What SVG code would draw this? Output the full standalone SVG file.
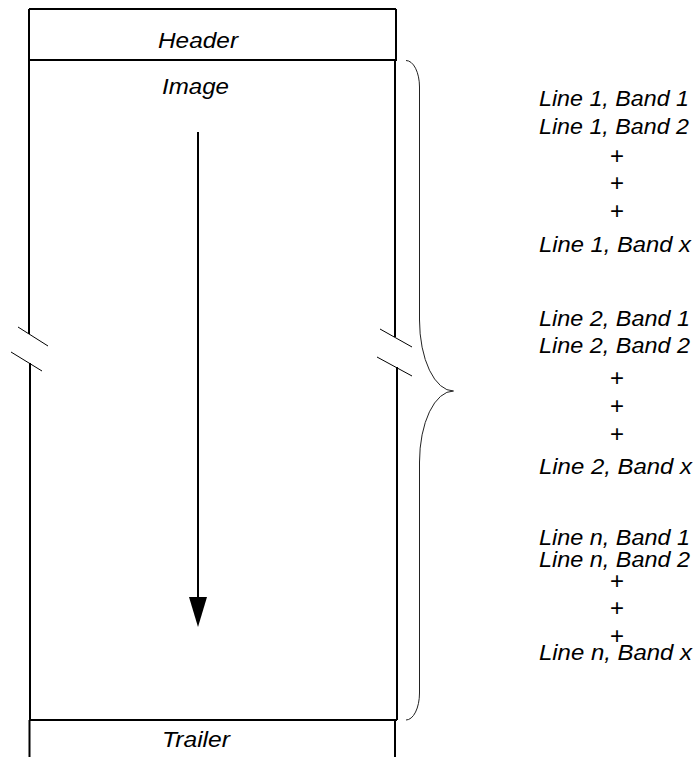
<svg xmlns="http://www.w3.org/2000/svg" width="699" height="757" viewBox="0 0 699 757">
  <style>
    .frame { fill: none; stroke: #000; stroke-width: 2; }
    .thin { fill: none; stroke: #000; stroke-width: 1; }
    .brace { fill: none; stroke: #222; stroke-width: 1; }
    text { font-family: "Liberation Sans", Arial, sans-serif; font-size: 22px; fill: #000; }
    .lbl { font-style: italic; }
    .mid { text-anchor: middle; }
    .plus { text-anchor: middle; font-size: 24px; }
  </style>
  <rect width="699" height="757" fill="#fff"/>

  <!-- Header block -->
  <g id="header">
    <path class="frame" d="M29 9 H396 M29 9 V60 M396 9 V60 M29 60 H397"/>
    <text class="lbl mid" x="198" y="48" textLength="80" lengthAdjust="spacingAndGlyphs">Header</text>
  </g>

  <!-- Image block with break marks -->
  <g id="image">
    <path class="frame" d="M29 60 V334 M30 363 V720 M395 60 V337 M397 367 V720 M29 720 H397"/>
    <path class="thin" d="M18 327 L48 346 M11 352 L42 371 M380 329 L412 347 M377 357 L412 376"/>
    <text class="lbl mid" x="195.5" y="94" textLength="67" lengthAdjust="spacingAndGlyphs">Image</text>
  </g>

  <!-- Trailer block -->
  <g id="trailer">
    <path class="frame" d="M29.5 720 V757 M395 720 V757"/>
    <text class="lbl mid" x="196" y="747" textLength="68" lengthAdjust="spacingAndGlyphs">Trailer</text>
  </g>

  <!-- Connectors: scan direction arrow and brace -->
  <g id="connectors">
    <line class="frame" x1="198" y1="132" x2="198" y2="600"/>
    <polygon points="189,597 207,597 198,627" fill="#000"/>
    <path class="brace" d="M406 60.5 A13.5 26.5 0 0 1 419.5 87 V320 A34 71 0 0 0 453.5 391 A34 71 0 0 0 419.5 462 V693 A13.5 27 0 0 1 406 720"/>
  </g>

  <!-- Band listing -->
  <g id="bands">
    <text class="lbl" x="539" y="106" textLength="150" lengthAdjust="spacingAndGlyphs">Line 1, Band 1</text>
    <text class="lbl" x="539" y="134" textLength="150" lengthAdjust="spacingAndGlyphs">Line 1, Band 2</text>
    <text class="plus" x="617" y="164">+</text>
    <text class="plus" x="617" y="191">+</text>
    <text class="plus" x="617" y="219">+</text>
    <text class="lbl" x="539" y="252" textLength="152" lengthAdjust="spacingAndGlyphs">Line 1, Band x</text>

    <text class="lbl" x="539" y="326" textLength="151" lengthAdjust="spacingAndGlyphs">Line 2, Band 1</text>
    <text class="lbl" x="539" y="353" textLength="151" lengthAdjust="spacingAndGlyphs">Line 2, Band 2</text>
    <text class="plus" x="617" y="386">+</text>
    <text class="plus" x="617" y="414">+</text>
    <text class="plus" x="617" y="442">+</text>
    <text class="lbl" x="539" y="474" textLength="153" lengthAdjust="spacingAndGlyphs">Line 2, Band x</text>

    <text class="lbl" x="539" y="545" textLength="151" lengthAdjust="spacingAndGlyphs">Line n, Band 1</text>
    <text class="lbl" x="539" y="567" textLength="151" lengthAdjust="spacingAndGlyphs">Line n, Band 2</text>
    <text class="plus" x="617" y="589">+</text>
    <text class="plus" x="617" y="616">+</text>
    <text class="plus" x="617" y="644">+</text>
    <text class="lbl" x="539" y="660" textLength="153" lengthAdjust="spacingAndGlyphs">Line n, Band x</text>
  </g>
</svg>
